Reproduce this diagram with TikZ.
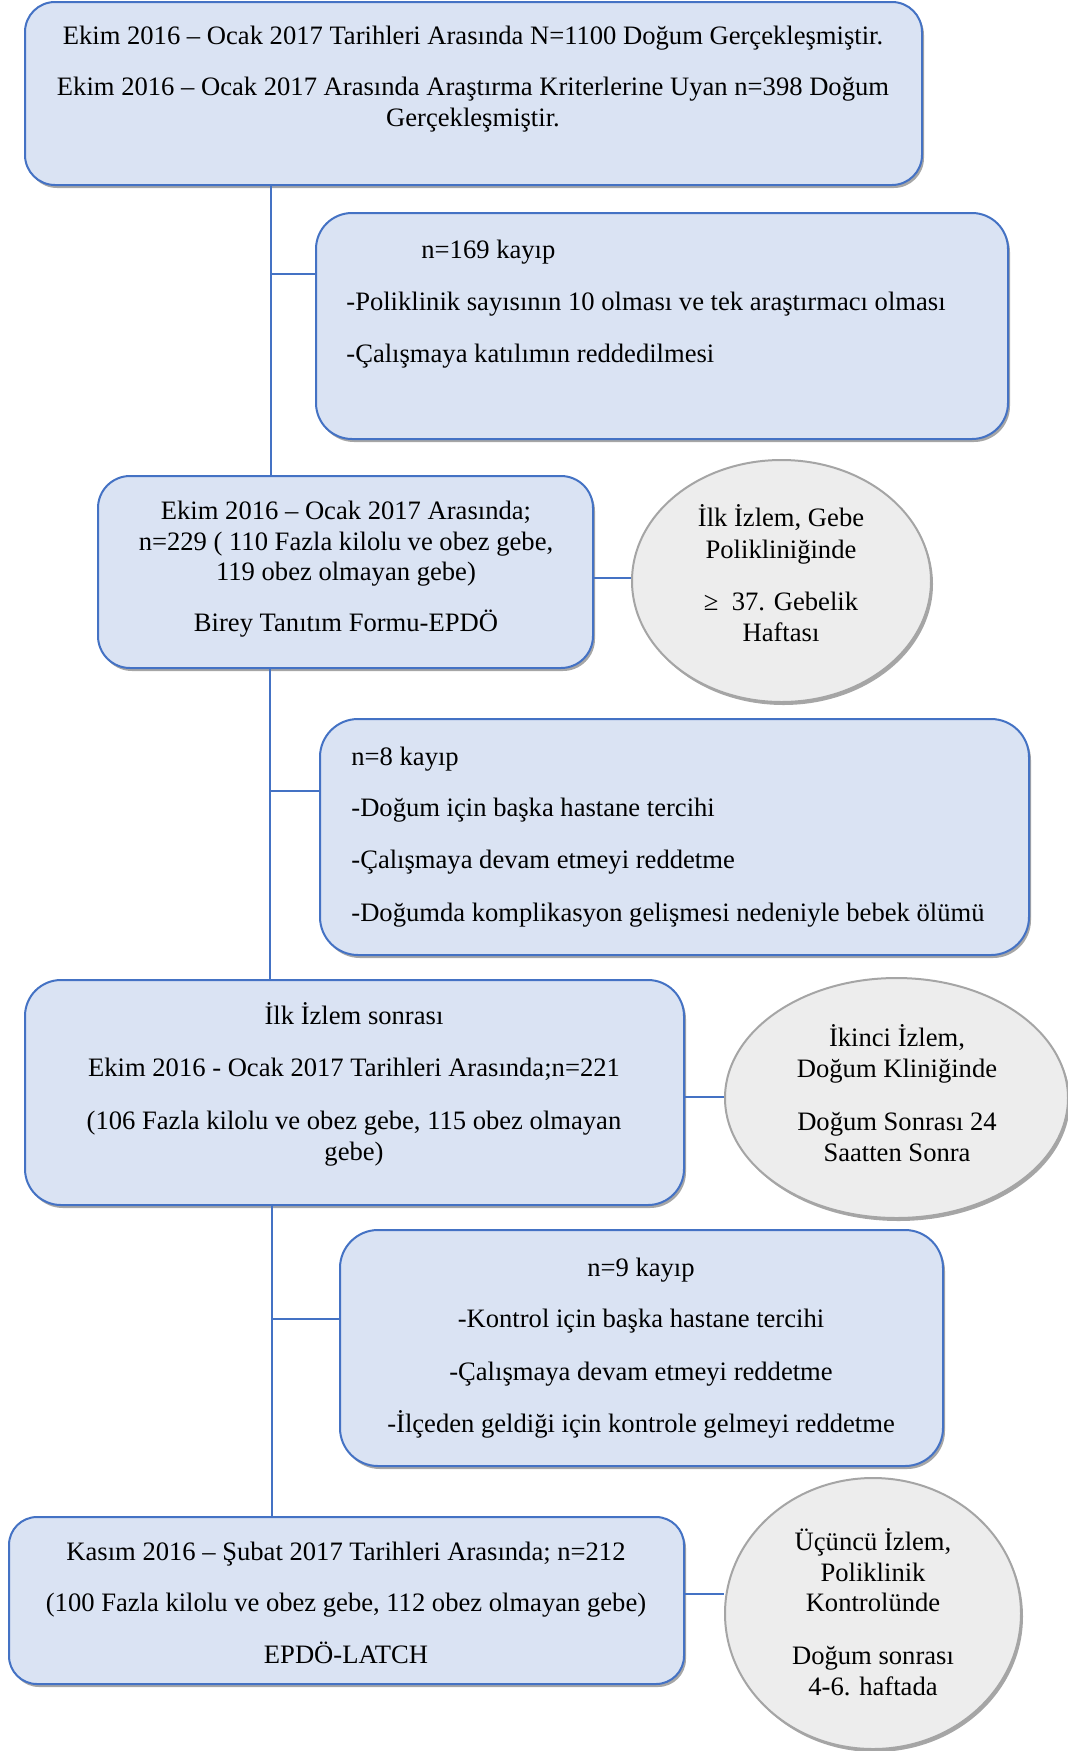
\documentclass[tikz,border=0pt]{standalone}
\usepackage{fontspec}
\setmainfont{Liberation Serif}
\usetikzlibrary{shadows,shapes.geometric}
\definecolor{boxfill}{HTML}{DAE3F3}
\definecolor{boxdraw}{HTML}{4472C4}
\definecolor{ellfill}{HTML}{EDEDED}
\definecolor{elldraw}{HTML}{A5A5A5}
\begin{document}
\begin{tikzpicture}[x=0.5pt,y=-0.5pt,
  shad/.style={drop shadow={shadow xshift=1pt,shadow yshift=-1.5pt,fill=black,opacity=0.35}},
  box/.style={draw=boxdraw,fill=boxfill,line width=1pt,shad,inner sep=0pt},
  ell/.style={ellipse,draw=elldraw,fill=ellfill,line width=1pt,shad,inner sep=0pt},
  tl/.style={font=\fontsize{13.3}{16}\selectfont,inner sep=0pt,text height=0.7em,text depth=0.2em,yshift=-1.8pt},
  link/.style={draw=boxdraw,line width=0.75pt}]
\useasboundingbox (0,0) rectangle (1068,1751);
\fill[white] (0,0) rectangle (1068,1751);

% boxes
\node[box,rounded corners=15pt,minimum width=448.5pt,minimum height=91.5pt] (b1) at (473.5,93.5) {};
\node[box,rounded corners=18pt,minimum width=346pt,minimum height=113pt] (b2) at (662,326) {};
\node[box,rounded corners=16pt,minimum width=247.5pt,minimum height=96pt] (b3) at (345.5,572) {};
\node[ell,minimum width=149.5pt,minimum height=121pt] (e1) at (781.5,581) {};
\node[box,rounded corners=19pt,minimum width=354.5pt,minimum height=118pt] (b4) at (674.5,837) {};
\node[box,rounded corners=18pt,minimum width=329.5pt,minimum height=112.5pt] (b5) at (354.5,1092.5) {};
\node[ell,minimum width=171.5pt,minimum height=120pt] (e2) at (896.5,1098) {};
\node[box,rounded corners=19pt,minimum width=301.5pt,minimum height=118pt] (b6) at (641.5,1348) {};
\node[box,rounded corners=14pt,minimum width=337.5pt,minimum height=83.5pt] (b7) at (346.5,1600.5) {};
\node[ell,minimum width=148pt,minimum height=135.5pt] (e3) at (873,1613.5) {};

% connectors
\coordinate (v1) at (271,0);
\coordinate (v2) at (270,0);
\coordinate (v3) at (272,0);
\coordinate (j1) at (271,274);
\coordinate (j2) at (270,791);
\coordinate (j3) at (272,1319);
\coordinate (h1) at (0,578);
\coordinate (h2) at (0,1097);
\coordinate (h3) at (0,1594);
\draw[link] (b1.south -| v1) -- (b3.north -| v1);
\draw[link] (j1) -- (j1 -| b2.west);
\draw[link] (b3.east |- h1) -- (e1.west |- h1);
\draw[link] (b3.south -| v2) -- (b5.north -| v2);
\draw[link] (j2) -- (j2 -| b4.west);
\draw[link] (b5.east |- h2) -- (e2.west |- h2);
\draw[link] (b5.south -| v3) -- (b7.north -| v3);
\draw[link] (j3) -- (j3 -| b6.west);
\draw[link] (b7.east |- h3) -- (e3.west |- h3);

% texts box 1
\node[tl] (t11) at (473,36) {Ekim 2016 – Ocak 2017 Tarihleri Arasında N=1100 Doğum Gerçekleşmiştir.};
\node[tl] (t12) at (473,87) {Ekim 2016 – Ocak 2017 Arasında Araştırma Kriterlerine Uyan n=398 Doğum};
\node[tl] (t13) at (473,118) {Gerçekleşmiştir.};
% box 2
\node[tl,anchor=west] (t21) at (421,250) {n=169 kayıp};
\node[tl,anchor=west] (t22) at (346,302) {-Poliklinik sayısının 10 olması ve tek araştırmacı olması};
\node[tl,anchor=west] (t23) at (346,354) {-Çalışmaya katılımın reddedilmesi};
% box 3
\node[tl] (t31) at (346,511) {Ekim 2016 – Ocak 2017 Arasında;};
\node[tl] (t32) at (346,542) {n=229 ( 110 Fazla kilolu ve obez gebe,};
\node[tl] (t33) at (346,572) {119 obez olmayan gebe)};
\node[tl] (t34) at (346,623) {Birey Tanıtım Formu-EPDÖ};
% ellipse 1
\node[tl] (s11) at (781,518) {İlk İzlem, Gebe};
\node[tl] (s12) at (781,550) {Polikliniğinde};
\node[tl] (s13) at (781,602) {≥\ \ 37. Gebelik};
\node[tl] (s14) at (781,633) {Haftası};
% box 4
\node[tl,anchor=west] (t41) at (351,757) {n=8 kayıp};
\node[tl,anchor=west] (t42) at (351,808) {-Doğum için başka hastane tercihi};
\node[tl,anchor=west] (t43) at (351,860) {-Çalışmaya devam etmeyi reddetme};
\node[tl,anchor=west] (t44) at (351,913) {-Doğumda komplikasyon gelişmesi nedeniyle bebek ölümü};
% box 5
\node[tl] (t51) at (354,1016) {İlk İzlem sonrası};
\node[tl] (t52) at (354,1068) {Ekim 2016 - Ocak 2017 Tarihleri Arasında;n=221};
\node[tl] (t53) at (354,1121) {(106 Fazla kilolu ve obez gebe, 115 obez olmayan};
\node[tl] (t54) at (354,1152) {gebe)};
% ellipse 2
\node[tl] (s21) at (897,1038) {İkinci İzlem,};
\node[tl] (s22) at (897,1069) {Doğum Kliniğinde};
\node[tl] (s23) at (897,1122) {Doğum Sonrası 24};
\node[tl] (s24) at (897,1153) {Saatten Sonra};
% box 6
\node[tl] (t61) at (641,1268) {n=9 kayıp};
\node[tl] (t62) at (641,1319) {-Kontrol için başka hastane tercihi};
\node[tl] (t63) at (641,1372) {-Çalışmaya devam etmeyi reddetme};
\node[tl] (t64) at (641,1424) {-İlçeden geldiği için kontrole gelmeyi reddetme};
% box 7
\node[tl] (t71) at (346,1552) {Kasım 2016 – Şubat 2017 Tarihleri Arasında; n=212};
\node[tl] (t72) at (346,1603) {(100 Fazla kilolu ve obez gebe, 112 obez olmayan gebe)};
\node[tl] (t73) at (346,1655) {EPDÖ-LATCH};
% ellipse 3
\node[tl] (s31) at (873,1542) {Üçüncü İzlem,};
\node[tl] (s32) at (873,1573) {Poliklinik};
\node[tl] (s33) at (873,1603) {Kontrolünde};
\node[tl] (s34) at (873,1656) {Doğum sonrası};
\node[tl] (s35) at (873,1687) {4-6. haftada};
\end{tikzpicture}
\end{document}
